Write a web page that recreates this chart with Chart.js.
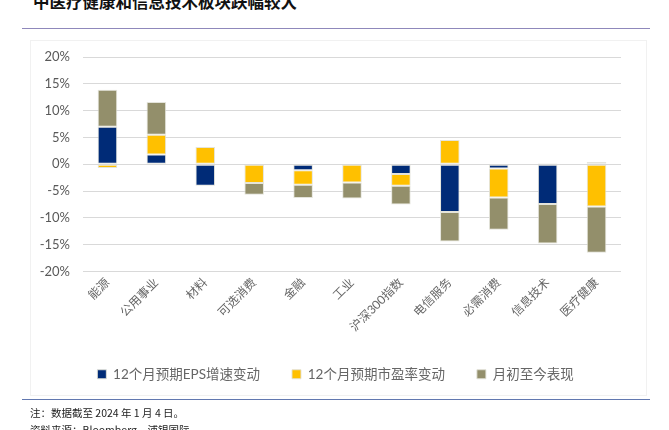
<!DOCTYPE html>
<html>
<head>
<meta charset="utf-8">
<script src="https://cdn.jsdelivr.net/npm/chart.js@4.4.1/dist/chart.umd.min.js"></script>
<style>
  body { margin: 0; background: #fff; font-family: Lato, "Noto Sans CJK SC", sans-serif; }
  #wrap { position: relative; width: 669px; height: 430px; overflow: hidden; }
  #myChart { position: absolute; left: 0; top: 0; }
  .title { position: absolute; left: 33px; top: -11px; font-size: 16.5px; font-weight: bold; color: #111; font-family: "Noto Sans CJK SC", sans-serif; white-space: nowrap; }
  .topline { position: absolute; left: 22px; top: 28px; width: 628px; height: 1px; background: #8f88bb; }
  .frame { position: absolute; left: 30px; top: 40px; width: 615px; height: 354px; border: 1px solid #f1f1f1; }
  .botline { position: absolute; left: 22px; top: 399px; width: 628px; height: 1px; background: #6278b0; }
  .note { position: absolute; left: 30px; font-size: 10.5px; color: #222; font-family: "Noto Sans CJK SC", sans-serif; white-space: nowrap; }
</style>
</head>
<body>
<div id="wrap">
  <div class="title">中医疗健康和信息技术板块跌幅较大</div>
  <div class="topline"></div>
  <div class="frame"></div>
  <canvas id="myChart" width="669" height="430"></canvas>
  <div class="botline"></div>
  <div class="note" style="top:405px">注：数据截至 2024 年 1 月 4 日。</div>
  <div class="note" style="top:422px">资料来源：Bloomberg，浦银国际</div>
</div>
<script>
  const labels = ['能源', '公用事业', '材料', '可选消费', '金融', '工业', '沪深300指数', '电信服务', '必需消费', '信息技术', '医疗健康'];

  const epsChange = [7.0, 1.8, -4.0, 0, -1.1, 0, -1.8, -8.9, -0.8, -7.4, 0.4];   // 12个月预期EPS增速变动
  const peChange = [-0.7, 3.7, 3.2, -3.5, -2.7, -3.4, -2.2, 4.5, -5.4, 0.2, -7.9]; // 12个月预期市盈率变动
  const mtdPerf = [6.9, 6.1, 0, -2.2, -2.5, -3.0, -3.5, -5.5, -6.0, -7.4, -8.6];   // 月初至今表现

  const yTicks = [-20, -15, -10, -5, 0, 5, 10, 15, 20];

  const fontFam = 'Lato, "Noto Sans CJK SC", sans-serif';

  const data = {
    labels: labels,
    datasets: [{
      label: '12个月预期EPS增速变动',
      backgroundColor: '#002b77', //navy
      data: epsChange,
    }, {
      label: '12个月预期市盈率变动',
      backgroundColor: '#ffc000', //yellow
      data: peChange,
    }, {
      label: '月初至今表现',
      backgroundColor: '#938f6b', //olive grey
      data: mtdPerf,
    }]
  };

  data.datasets.forEach(ds => {
    ds.borderColor = 'rgba(225,225,215,0.9)';
    ds.borderWidth = 1;
    ds.borderSkipped = false;
    ds.barPercentage = 0.4;
    ds.categoryPercentage = 1;
  });

  // nudge the legend a bit to the right, like the original
  const legendShift = {
    id: 'legendShift',
    afterLayout(chart) {
      chart.legend.left += 10;
      chart.legend.right += 10;
    }
  };

  const config = {
    type: 'bar',
    data: data,
    plugins: [legendShift],
    options: {
      responsive: false,
      animation: false,
      layout: { padding: { left: 30, right: 48, top: 57, bottom: 39 } },
      plugins: {
        legend: {
          position: 'bottom',
          labels: {
            boxWidth: 9,
            boxHeight: 9,
            padding: 32,
            color: '#666666',
            font: { size: 13.5, family: fontFam }
          }
        },
        tooltip: { enabled: false }
      },
      scales: {
        x: {
          stacked: true,
          grid: { display: false, drawTicks: false },
          border: { display: false },
          ticks: {
            minRotation: 45,
            maxRotation: 45,
            padding: 4,
            color: '#666666',
            font: { size: 12, family: fontFam }
          },
          afterFit: function(scale) { scale.height = 64; }
        },
        y: {
          stacked: true,
          min: -20,
          max: 20,
          afterBuildTicks: function(scale) { scale.ticks = yTicks.map(v => ({ value: v })); },
          grid: { color: '#d9d9d9', lineWidth: 1, drawTicks: false },
          border: { display: false },
          ticks: {
            padding: 13,
            color: '#595959',
            font: { size: 13, family: fontFam },
            callback: v => v + '%'
          },
          afterFit: function(scale) { scale.width = 53; }
        }
      }
    }
  };

  const myChart = new Chart(
    document.getElementById('myChart'),
    config
  );
</script>
</body>
</html>
